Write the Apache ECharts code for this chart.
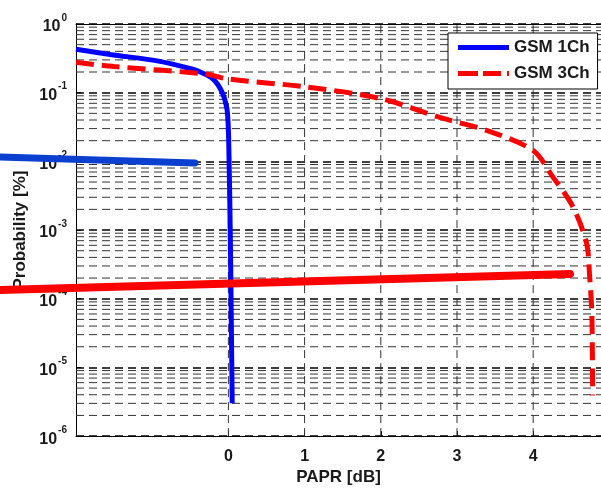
<!DOCTYPE html>
<html>
<head>
<meta charset="utf-8">
<script src="https://cdn.jsdelivr.net/npm/echarts@6/dist/echarts.min.js"></script>
<style>
  html, body { margin: 0; padding: 0; background: #fff; }
  #main { width: 601px; height: 491px; }
</style>
</head>
<body>
<div id="main"></div>
<script>
var xTicks = [0, 1, 2, 3, 4];
var xMin = -2, xMax = 4.89;
var yMin = 1e-6, yMax = 1;

// GSM 1Ch (solid blue)
var gsm1X = [-2, -1.55, -0.9, -0.47, -0.37, -0.2, -0.085, -0.02, 0.0, 0.01, 0.02, 0.03, 0.04, 0.05];
var gsm1Y = [0.43, 0.36, 0.286, 0.22, 0.2, 0.158, 0.103, 0.059, 0.028, 0.009, 0.002, 3e-4, 3e-5, 3e-6];

// GSM 3Ch (dashed red)
var gsm3X = [-2, -1.5, -0.3, 0, 1, 2, 2.81, 3.4, 4.0, 4.26, 4.52, 4.7, 4.74, 4.77, 4.78];
var gsm3Y = [0.277, 0.24, 0.187, 0.158, 0.122, 0.082, 0.0425, 0.028, 0.0144, 0.0059, 0.0022, 6.5e-4, 2.2e-4, 5.9e-5, 3.9e-6];

function pairs(xs, ys) {
  return xs.map(function (x, i) { return [x, ys[i]]; });
}

// minor grid levels 2..9 x 10^k
var minorLevels = [];
for (var k = -6; k < 0; k++) {
  for (var m = 2; m <= 9; m++) {
    minorLevels.push(m * Math.pow(10, k));
  }
}

var txt = '#1a1a1a';
var font = 'Liberation Sans';

var gridStyle = { color: '#333', width: 1, type: [8, 5] };
var gridSeries = minorLevels.map(function (v) {
  return {
    name: 'minor', type: 'line', data: [[xMin, v], [xMax, v]],
    symbol: 'none', silent: true, z: 1, lineStyle: gridStyle
  };
}).concat(xTicks.map(function (v) {
  return {
    name: 'vgrid', type: 'line', data: [[v, yMin], [v, yMax]],
    symbol: 'none', silent: true, z: 1, lineStyle: gridStyle
  };
}));

var myChart = echarts.init(document.getElementById('main'));
var option = {
  backgroundColor: '#fff',
  animation: false,
  textStyle: { fontFamily: font },
  grid: { left: 76, top: 24, right: 0, bottom: 47 },
  legend: {
    data: [
      { name: 'GSM 1Ch', icon: 'path://M0,0h51v5h-51z' },
      { name: 'GSM 3Ch', icon: 'path://M0,0h20v5h-20z M25,0h18v5h-18z M49,0h2v5h-2z' }
    ],
    z: 20,
    orient: 'vertical',
    left: 448, top: 33,
    padding: [6, 8, 7, 10],
    itemWidth: 51, itemHeight: 5, itemGap: 9,
    backgroundColor: '#fff',
    borderColor: '#000', borderWidth: 1,
    textStyle: { fontSize: 17, fontWeight: 'bold', color: txt, fontFamily: font }
  },
  xAxis: [{
    type: 'value',
    min: xMin, max: xMax, interval: 1,
    name: 'PAPR [dB]',
    nameLocation: 'middle', nameGap: 31,
    nameTextStyle: { fontSize: 17, fontWeight: 'bold', color: txt },
    axisLine: { onZero: false, lineStyle: { color: '#000', width: 1 } },
    axisTick: { inside: true, length: 5, customValues: xTicks, lineStyle: { color: '#000' } },
    axisLabel: { customValues: xTicks, fontSize: 16, fontWeight: 'bold', color: txt, margin: 12 },
    splitLine: { show: false }
  }, {
    type: 'value',
    position: 'top',
    min: xMin, max: xMax,
    axisLine: { show: true, onZero: false, lineStyle: { color: '#000', width: 1 } },
    axisTick: { show: false },
    axisLabel: { show: false },
    splitLine: { show: false }
  }],
  yAxis: {
    type: 'log', logBase: 10,
    min: yMin, max: yMax,
    name: 'Probability [%]',
    nameLocation: 'middle', nameGap: 41,
    nameTextStyle: { fontSize: 17, fontWeight: 'bold', color: txt },
    axisLine: { onZero: false, lineStyle: { color: '#000', width: 1 } },
    axisTick: { inside: true, length: 5, lineStyle: { color: '#000' } },
    axisLabel: {
      margin: 9,
      formatter: function (v) {
        var e = Math.round(Math.log10(v));
        return '{b|10}{s|' + e + '}';
      },
      rich: {
        b: { fontSize: 16, fontWeight: 'bold', color: txt, fontFamily: font, padding: [6, 0, 0, 0] },
        s: { fontSize: 10, fontWeight: 'bold', color: txt, fontFamily: font, verticalAlign: 'top', padding: [0, 0, 8, 1] }
      }
    },
    splitLine: { show: true, lineStyle: { color: '#000', width: 1.5, type: [8, 5] } }
  },
  series: gridSeries.concat([
    {
      name: 'GSM 1Ch',
      type: 'line',
      data: pairs(gsm1X, gsm1Y),
      symbol: 'none',
      smooth: 0.3,
      z: 3,
      lineStyle: { color: '#0000ff', width: 5 },
      itemStyle: { color: '#0000ff' }
    },
    {
      name: 'GSM 3Ch',
      type: 'line',
      data: pairs(gsm3X, gsm3Y),
      symbol: 'none',
      smooth: 0.3,
      z: 4,
      lineStyle: { color: '#ff0000', width: 5, type: [18, 8] },
      itemStyle: { color: '#ff0000' }
    }
  ]),
  graphic: [
    {
      type: 'line', z: 100,
      shape: { x1: 0, y1: 157, x2: 195, y2: 163 },
      style: { stroke: '#0a3fd0', lineWidth: 7, lineCap: 'round' }
    },
    {
      type: 'line', z: 100,
      shape: { x1: 0, y1: 290, x2: 570, y2: 274 },
      style: { stroke: '#ff0000', lineWidth: 8, lineCap: 'round' }
    }
  ]
};
myChart.setOption(option);
</script>
</body>
</html>
